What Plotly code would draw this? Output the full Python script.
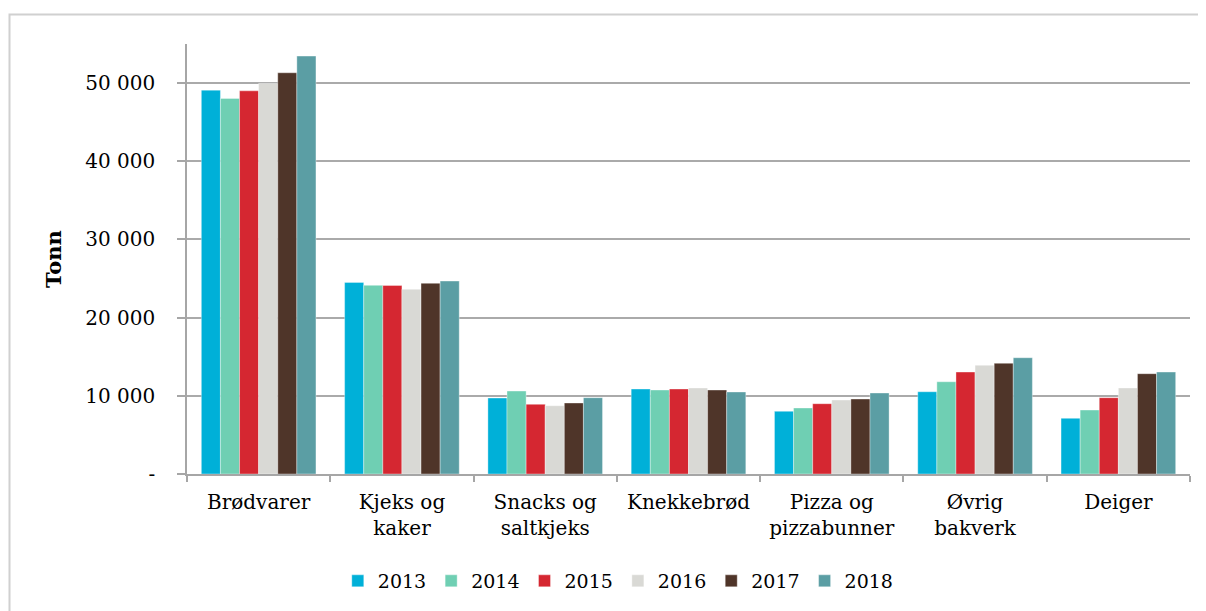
import plotly.graph_objects as go

categories = ["Brødvarer", "Kjeks og<br>kaker", "Snacks og<br>saltkjeks", "Knekkebrød",
              "Pizza og<br>pizzabunner", "Øvrig<br>bakverk", "Deiger"]
years = ["2013", "2014", "2015", "2016", "2017", "2018"]
v2013 = [49100, 24510, 9720, 10870, 8020, 10520, 7120]
v2014 = [48040, 24130, 10610, 10740, 8440, 11800, 8180]
v2015 = [49010, 24120, 8910, 10870, 8990, 13040, 9760]
v2016 = [49960, 23620, 8730, 11000, 9460, 13900, 11000]
v2017 = [51320, 24390, 9080, 10740, 9590, 14160, 12830]
v2018 = [53450, 24680, 9760, 10490, 10360, 14870, 13040]
series = [v2013, v2014, v2015, v2016, v2017, v2018]
colors = ["#00B0D8", "#6FCFB3", "#D52731", "#D9D9D5", "#4F3529", "#5B9EA4"]
tickvals = [0, 10000, 20000, 30000, 40000, 50000]
ticktext = ["-", "10 000", "20 000", "30 000", "40 000", "50 000"]

FONT = "DejaVu Serif"
# page body has an 8px margin, so the figure is offset by 8px
OFF = 8
W, H = 1206 - OFF, 611 - OFF
L, T, R = 187 - OFF, 44 - OFF, 16
B = H - T - 430

fig = go.Figure()
for y, vals, c in zip(years, series, colors):
    fig.add_trace(go.Bar(name=y, x=categories, y=vals, marker_color=c,
                         marker_line=dict(color="rgba(255,255,255,0.6)", width=0.6)))

fig.update_layout(
    width=W, height=H,
    paper_bgcolor="white", plot_bgcolor="white",
    margin=dict(l=L, r=R, t=T, b=B, autoexpand=False),
    barmode="group", bargap=0.2, bargroupgap=0,
    font=dict(family=FONT, size=20, color="#000000"),
    legend=dict(orientation="h", x=0.43, xanchor="center",
                yref="container", y=(611 - 581) / H, yanchor="middle",
                font=dict(family=FONT, size=19), itemwidth=30, traceorder="normal"),
    showlegend=True,
)
fig.update_xaxes(
    type="category", showline=True, linecolor="#a6a6a6", linewidth=1.5,
    ticks="outside", tickson="boundaries", ticklen=6, tickcolor="#a6a6a6", tickwidth=1.5,
    tickfont=dict(family=FONT, size=20, color="#000000"), showgrid=False,
    ticklabelstandoff=9, automargin=False,
)
fig.update_yaxes(
    range=[0, 55000], tickvals=tickvals, ticktext=ticktext,
    showline=True, linecolor="#a6a6a6", linewidth=1.5,
    ticks="outside", ticklen=8, tickcolor="#a6a6a6", tickwidth=1.5,
    showgrid=True, gridcolor="#aaaaaa", gridwidth=1.5,
    tickfont=dict(family=FONT, size=20, color="#000000"), ticklabelstandoff=18,
    title=dict(text="<b>Tonn</b>", font=dict(family=FONT, size=21, color="#000000"), standoff=18),
    zeroline=False, automargin=False,
)
fig.add_shape(type="rect", xref="paper", yref="paper",
              x0=(9.5 - 187) / 1003, x1=1.2, y0=-0.5, y1=(474 - 14.5) / 430,
              line=dict(color="#d0d0d0", width=2), layer="below")
fig.write_html("out.html")
